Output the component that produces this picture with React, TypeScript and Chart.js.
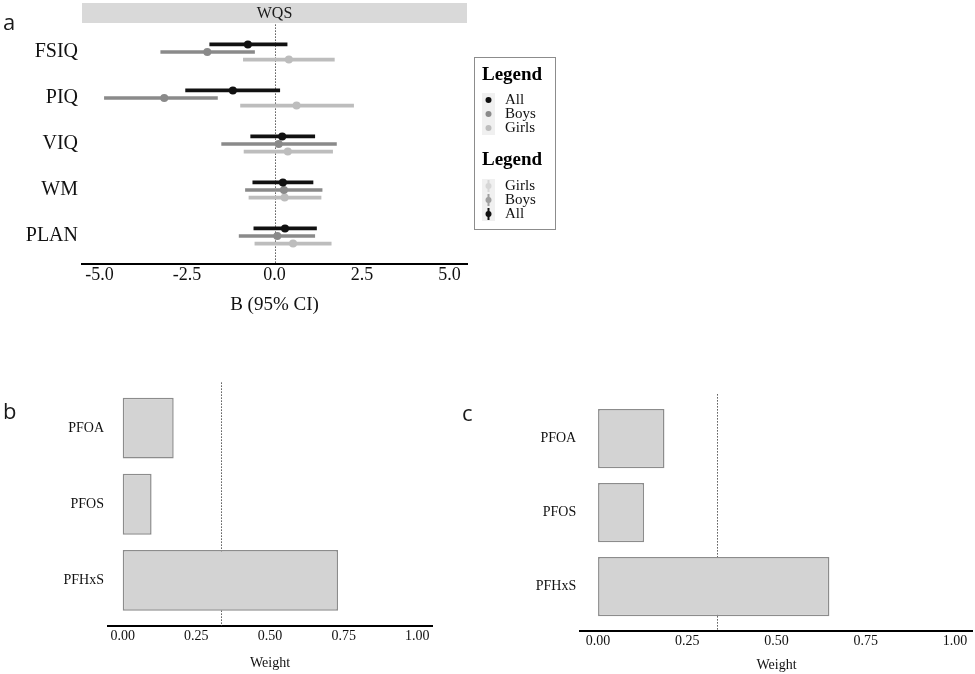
import React, { useEffect, useRef } from 'react';
import { Chart, registerables } from 'chart.js';

Chart.register(...registerables);

// ---------- Data ----------
const outcomes = ['FSIQ', 'PIQ', 'VIQ', 'WM', 'PLAN'];
const seriesNames = ['All', 'Boys', 'Girls'];

const allEst = [-0.76, -1.19, 0.22, 0.24, 0.3];
const allLow = [-1.85, -2.54, -0.68, -0.62, -0.59];
const allHigh = [0.36, 0.15, 1.15, 1.1, 1.2];

const boysEst = [-1.92, -3.15, 0.12, 0.27, 0.08];
const boysLow = [-3.25, -4.86, -1.51, -0.83, -1.01];
const boysHigh = [-0.57, -1.63, 1.77, 1.36, 1.15];

const girlsEst = [0.41, 0.63, 0.38, 0.29, 0.53];
const girlsLow = [-0.89, -0.97, -0.87, -0.73, -0.56];
const girlsHigh = [1.71, 2.26, 1.66, 1.33, 1.62];

const effectTicks = [-5, -2.5, 0, 2.5, 5];

const components = ['PFOA', 'PFOS', 'PFHxS'];
const weightsB = [0.173, 0.098, 0.731];
const weightsC = [0.186, 0.129, 0.648];
const weightTicks = [0, 0.25, 0.5, 0.75, 1];
const threshold = 1 / 3;

// ---------- Styles ----------
const serif = "'Liberation Serif', 'DejaVu Serif', serif";
const seriesColors = ['#111111', '#8a8a8a', '#bdbdbd'];
const legendGlyphColors = ['#111111', '#a0a0a0', '#d6d6d6'];
const dodge = 0.165;
const dodgeDir = [-1, 0, 1];

const est = [allEst, boysEst, girlsEst];
const low = [allLow, boysLow, girlsLow];
const high = [allHigh, boysHigh, girlsHigh];

const refLinePlugin = (value: number, id: string) => ({
  id,
  beforeDatasetsDraw(chart: any) {
    const { ctx, chartArea, scales } = chart;
    const x = Math.round(scales.x.getPixelForValue(value)) + 0.5;
    ctx.save();
    ctx.strokeStyle = '#555';
    ctx.lineWidth = 1;
    ctx.setLineDash([1.5, 1.5]);
    ctx.beginPath();
    ctx.moveTo(x, chartArea.top);
    ctx.lineTo(x, chartArea.bottom);
    ctx.stroke();
    ctx.restore();
  },
});

const stripPlugin = {
  id: 'strip',
  beforeDraw(chart: any) {
    const { ctx, chartArea } = chart;
    ctx.save();
    ctx.fillStyle = '#d9d9d9';
    ctx.fillRect(chartArea.left, 3, chartArea.right - chartArea.left, 20);
    ctx.fillStyle = '#1a1a1a';
    ctx.font = `16px ${serif}`;
    ctx.textAlign = 'center';
    ctx.textBaseline = 'middle';
    ctx.fillText('WQS', (chartArea.left + chartArea.right) / 2, 14);
    ctx.restore();
  },
};

const legendPlugin = {
  id: 'sexLegend',
  afterDraw(chart: any) {
    const { ctx } = chart;
    ctx.save();
    ctx.strokeStyle = '#8c8c8c';
    ctx.lineWidth = 1;
    ctx.strokeRect(474.5, 57.5, 81, 172);
    ctx.textAlign = 'left';
    ctx.textBaseline = 'middle';
    ctx.fillStyle = '#000';
    ctx.font = `bold 19px ${serif}`;
    ctx.fillText('Legend', 482, 75);
    ctx.fillText('Legend', 482, 160);
    ctx.fillStyle = '#f0f0f0';
    ctx.fillRect(482, 93, 13, 42);
    ctx.fillRect(482, 179, 13, 42);
    ctx.font = `15px ${serif}`;
    seriesNames.forEach((name, s) => {
      const y = 100 + s * 14;
      ctx.fillStyle = seriesColors[s];
      ctx.beginPath();
      ctx.arc(488.5, y, 3, 0, Math.PI * 2);
      ctx.fill();
      ctx.fillStyle = '#111';
      ctx.fillText(name, 505, y);
    });
    [2, 1, 0].forEach((s, k) => {
      const y = 186 + k * 14;
      ctx.strokeStyle = legendGlyphColors[s];
      ctx.fillStyle = legendGlyphColors[s];
      ctx.lineWidth = 2;
      ctx.beginPath();
      ctx.moveTo(488.5, y - 6);
      ctx.lineTo(488.5, y + 6);
      ctx.stroke();
      ctx.beginPath();
      ctx.arc(488.5, y, 3, 0, Math.PI * 2);
      ctx.fill();
      ctx.fillStyle = '#111';
      ctx.fillText(seriesNames[s], 505, y);
    });
    ctx.restore();
  },
};

function forestConfig(): any {
  const pointSets = seriesNames.map((name, s) => ({
    type: 'scatter',
    label: name,
    data: outcomes.map((_, i) => ({ x: est[s][i], y: i + dodgeDir[s] * dodge })),
    backgroundColor: seriesColors[s],
    borderColor: seriesColors[s],
    pointRadius: 4,
    pointBorderWidth: 0,
    order: 0,
  }));
  const ciSets = seriesNames.map((name, s) => ({
    type: 'bar',
    label: name + ' CI',
    indexAxis: 'y',
    data: outcomes.map((_, i) => ({ y: i + dodgeDir[s] * dodge, x: [low[s][i], high[s][i]] })),
    backgroundColor: seriesColors[s],
    barThickness: 3,
    grouped: false,
    borderWidth: 0,
    borderSkipped: false,
    order: 1,
  }));
  return {
    type: 'bar',
    data: { datasets: [...pointSets, ...ciSets] },
    options: {
      animation: false,
      responsive: false,
      devicePixelRatio: 1,
      indexAxis: 'y',
      layout: { padding: { left: 0, right: 103, top: 24.4, bottom: 0 } },
      plugins: { legend: { display: false }, tooltip: { enabled: false } },
      scales: {
        x: {
          type: 'linear',
          min: -5.5,
          max: 5.5,
          bounds: 'data',
          offset: false,
          grid: { display: false, offset: false, drawTicks: false },
          border: { display: true, color: '#000', width: 2 },
          afterBuildTicks: (s: any) => {
            s.ticks = effectTicks.map((v) => ({ value: v }));
          },
          ticks: {
            callback: (v: any) => Number(v).toFixed(1),
            font: { family: serif, size: 18 },
            color: '#111',
            padding: 1,
            maxRotation: 0,
            autoSkip: false,
          },
          title: {
            display: true,
            text: 'B (95% CI)',
            font: { family: serif, size: 19 },
            color: '#111',
            padding: { top: 0, bottom: 4 },
          },
          afterFit: (s: any) => {
            s.height = 56.4;
          },
        },
        y: {
          type: 'linear',
          min: -0.6,
          max: 4.6,
          reverse: true,
          bounds: 'data',
          offset: false,
          grid: { display: false, offset: false, drawTicks: false },
          border: { display: false },
          afterBuildTicks: (s: any) => {
            s.ticks = outcomes.map((_, i) => ({ value: i }));
          },
          ticks: {
            callback: (v: any) => outcomes[Math.round(Number(v))],
            font: { family: serif, size: 20 },
            color: '#111',
            padding: 4,
            autoSkip: false,
          },
          afterFit: (s: any) => {
            s.width = 82;
          },
        },
      },
    },
    plugins: [stripPlugin, refLinePlugin(0, 'zeroLine'), legendPlugin],
  };
}

function weightConfig(weights: number[], pad: any, yWidth: number, xHeight: number, titleBottom: number): any {
  return {
    type: 'bar',
    data: {
      datasets: [
        {
          label: 'Weight',
          indexAxis: 'y',
          data: components.map((_, i) => ({ y: i + 1, x: weights[i] })),
          backgroundColor: '#d3d3d3',
          borderColor: '#8c8c8c',
          borderWidth: 1.5,
          borderSkipped: false,
          barPercentage: 0.8,
          categoryPercentage: 1,
          grouped: false,
        },
      ],
    },
    options: {
      animation: false,
      responsive: false,
      devicePixelRatio: 1,
      indexAxis: 'y',
      layout: { padding: pad },
      plugins: { legend: { display: false }, tooltip: { enabled: false } },
      scales: {
        x: {
          type: 'linear',
          min: -0.05,
          max: 1.05,
          bounds: 'data',
          offset: false,
          grid: { display: false, offset: false, drawTicks: false },
          border: { display: true, color: '#000', width: 2 },
          afterBuildTicks: (s: any) => {
            s.ticks = weightTicks.map((v) => ({ value: v }));
          },
          ticks: {
            callback: (v: any) => Number(v).toFixed(2),
            font: { family: serif, size: 14 },
            color: '#111',
            padding: 2,
            maxRotation: 0,
            autoSkip: false,
          },
          title: {
            display: true,
            text: 'Weight',
            font: { family: serif, size: 14 },
            color: '#111',
            padding: { top: 0, bottom: titleBottom },
          },
          afterFit: (s: any) => {
            s.height = xHeight;
          },
        },
        y: {
          type: 'linear',
          min: 0.4,
          max: 3.6,
          reverse: true,
          bounds: 'data',
          offset: false,
          grid: { display: false, offset: false, drawTicks: false },
          border: { display: false },
          afterBuildTicks: (s: any) => {
            s.ticks = components.map((_, i) => ({ value: i + 1 }));
          },
          ticks: {
            callback: (v: any) => components[Math.round(Number(v)) - 1],
            font: { family: serif, size: 14 },
            color: '#111',
            padding: 4,
            autoSkip: false,
          },
          afterFit: (s: any) => {
            s.width = yWidth;
          },
        },
      },
    },
    plugins: [refLinePlugin(threshold, 'thresholdLine')],
  };
}

function ChartCanvas({ config, left, top, width, height }: any) {
  const ref = useRef<HTMLCanvasElement | null>(null);
  useEffect(() => {
    if (!ref.current) return;
    const chart = new Chart(ref.current, config);
    return () => chart.destroy();
  }, []);
  return (
    <canvas
      ref={ref}
      width={width}
      height={height}
      style={{ position: 'absolute', left, top, width, height }}
    />
  );
}

const panelLabel: React.CSSProperties = {
  position: 'absolute',
  fontFamily: "'Open Sans', 'Noto Sans', sans-serif",
  fontSize: 22,
  lineHeight: '22px',
  color: '#1a1a1a',
};

export default function App() {
  return (
    <div
      style={{
        position: 'absolute',
        left: 0,
        top: 0,
        width: 975,
        height: 674,
        background: '#fff',
        overflow: 'hidden',
      }}
    >
      <ChartCanvas config={forestConfig()} left={0} top={0} width={570} height={320} />
      <ChartCanvas
        config={weightConfig(weightsB, { left: 0, right: 38, top: 9.8, bottom: 0 }, 108, 48, 2.6)}
        left={0}
        top={370}
        width={470}
        height={304}
      />
      <ChartCanvas
        config={weightConfig(weightsC, { left: 0, right: 2.1, top: 24.1, bottom: 0 }, 110.2, 43, 0)}
        left={470}
        top={370}
        width={505}
        height={304}
      />
      <span style={{ ...panelLabel, left: 3, top: 10 }}>a</span>
      <span style={{ ...panelLabel, left: 3, top: 399 }}>b</span>
      <span style={{ ...panelLabel, left: 462, top: 401 }}>c</span>
    </div>
  );
}
